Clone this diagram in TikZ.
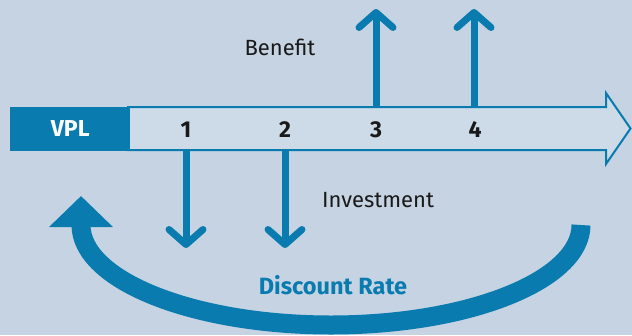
\documentclass[tikz,border=0pt]{standalone}
\usepackage{fontspec}
\setmainfont{Fira Sans}
\usetikzlibrary{arrows.meta}
\definecolor{vplblue}{HTML}{0A7BAE}
\definecolor{vplback}{HTML}{C5D3E3}
\definecolor{vplbody}{HTML}{CDDAE8}
\begin{document}
\begin{tikzpicture}[x=1pt,y=-1pt,
    flow/.style={draw=vplblue,line width=7pt,-{Straight Barb[length=15pt,width=34pt,line cap=round,line join=round]}},
    year/.style={font=\bfseries\fontsize{23}{23}\selectfont,text=black!90},
    lbl/.style={font=\fontsize{22}{22}\selectfont,text=black!90}]
    \fill[vplback] (0,0) rectangle (632,335);

    \filldraw[fill=vplbody,draw=vplblue,line width=2pt] (128,107) -- (606,107) -- (606,93) -- (630.5,128.5) -- (606,164) -- (606,150) -- (128,150) -- cycle;
    \node[fill=vplblue,text=white,font=\bfseries\fontsize{23}{23}\selectfont,minimum width=120pt,minimum height=44pt,inner sep=0pt,anchor=west] (vpl) at (10,128.5) {VPL};

    \node[year] (t1) at (186,130) {1};
    \node[year] (t2) at (285,130) {2};
    \node[year] (t3) at (376,130) {3};
    \node[year] (t4) at (475,130) {4};

    \coordinate (b1) at (186,150);
    \coordinate (b2) at (285,150);
    \coordinate (a3) at (376,107);
    \coordinate (a4) at (474,107);
    \coordinate (d1) at (186,248);
    \coordinate (d2) at (285,248);
    \coordinate (u3) at (376,9);
    \coordinate (u4) at (474,9);

    \draw[flow] (b1) -- (d1);
    \draw[flow] (b2) -- (d2);
    \draw[flow] (a3) -- (u3);
    \draw[flow] (a4) -- (u4);

    \node[lbl] (benefit) at (280,47) {Benefit};
    \node[lbl] (invest) at (378,200) {Investment};

    \coordinate (rstart) at (581,225);
    \draw[vplblue,line width=19pt,-{Triangle[length=31pt,width=62pt]}] (rstart) arc[start angle=0,end angle=180,x radius=250,y radius=100] -- ++(0,-29);
    \node[font=\bfseries\fontsize{23.5}{23.5}\selectfont,text=vplblue] (rate) at (333,285) {Discount Rate};
\end{tikzpicture}
\end{document}
